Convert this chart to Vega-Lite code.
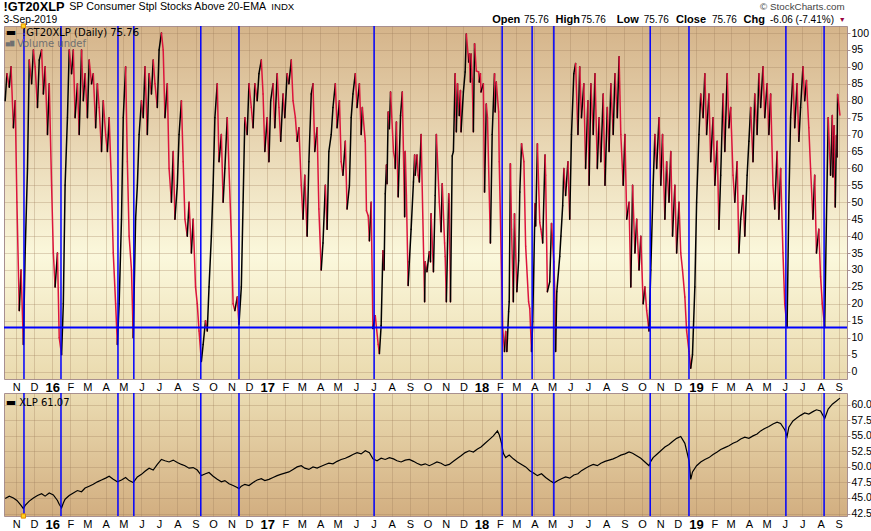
{
"$schema":"https://vega.github.io/schema/vega-lite/v6.json",
"background":"white",
"padding":{"left":2,"top":0,"right":0,"bottom":0},
"bounds":"flush",
"spacing":14,
"config":{"font":"Liberation Sans","view":{"stroke":"#a89090"},"axis":{"labelFont":"Liberation Sans","labelFontSize":11,"labelColor":"#000000","gridColor":"#9c7c58","gridOpacity":0.3,"domain":false,"tickColor":"#a89090","labelBound":false},"axisY":{"labelOverlap":false,"labelFontSize":10.5}},
"datasets":{
"gt":[
{"d":"2015-10-13","v":80},{"d":"2015-10-16","v":88},{"d":"2015-10-20","v":84},{"d":"2015-10-23","v":90},{"d":"2015-10-27","v":72},{"d":"2015-10-30","v":80},{"d":"2015-11-02","v":50},{"d":"2015-11-06","v":18},{"d":"2015-11-09","v":30},{"d":"2015-11-13","v":8},{"d":"2015-11-16","v":35},{"d":"2015-11-20","v":60},{"d":"2015-11-23","v":92},{"d":"2015-11-27","v":85},{"d":"2015-11-30","v":95},{"d":"2015-12-03","v":90},{"d":"2015-12-07","v":78},{"d":"2015-12-10","v":92},{"d":"2015-12-14","v":95},{"d":"2015-12-17","v":82},{"d":"2015-12-20","v":90},{"d":"2015-12-24","v":70},{"d":"2015-12-27","v":85},{"d":"2015-12-31","v":55},
{"d":"2016-01-03","v":35},{"d":"2016-01-06","v":25},{"d":"2016-01-10","v":35},{"d":"2016-01-13","v":10},{"d":"2016-01-17","v":5},{"d":"2016-01-20","v":20},{"d":"2016-01-23","v":55},{"d":"2016-01-27","v":75},{"d":"2016-01-30","v":95},{"d":"2016-02-03","v":88},{"d":"2016-02-06","v":95},{"d":"2016-02-09","v":75},{"d":"2016-02-13","v":85},{"d":"2016-02-16","v":70},{"d":"2016-02-20","v":95},{"d":"2016-02-23","v":80},{"d":"2016-02-26","v":88},{"d":"2016-03-01","v":75},{"d":"2016-03-04","v":92},{"d":"2016-03-08","v":85},{"d":"2016-03-11","v":88},{"d":"2016-03-15","v":72},{"d":"2016-03-18","v":85},{"d":"2016-03-21","v":78},{"d":"2016-03-25","v":65},{"d":"2016-03-28","v":80},{"d":"2016-04-01","v":70},{"d":"2016-04-04","v":65},{"d":"2016-04-07","v":75},{"d":"2016-04-11","v":55},{"d":"2016-04-14","v":35},{"d":"2016-04-18","v":20},{"d":"2016-04-21","v":8},{"d":"2016-04-24","v":20},{"d":"2016-04-28","v":45},{"d":"2016-05-01","v":75},{"d":"2016-05-05","v":90},{"d":"2016-05-08","v":62},{"d":"2016-05-11","v":40},{"d":"2016-05-15","v":30},{"d":"2016-05-18","v":10},{"d":"2016-05-22","v":45},{"d":"2016-05-25","v":55},{"d":"2016-05-28","v":70},{"d":"2016-06-01","v":80},{"d":"2016-06-04","v":75},{"d":"2016-06-07","v":90},{"d":"2016-06-11","v":70},{"d":"2016-06-14","v":88},{"d":"2016-06-18","v":82},{"d":"2016-06-21","v":92},{"d":"2016-06-24","v":85},{"d":"2016-06-28","v":78},{"d":"2016-07-01","v":95},{"d":"2016-07-05","v":100},{"d":"2016-07-08","v":95},{"d":"2016-07-11","v":75},{"d":"2016-07-15","v":85},{"d":"2016-07-18","v":60},{"d":"2016-07-22","v":50},{"d":"2016-07-25","v":65},{"d":"2016-07-28","v":45},{"d":"2016-08-01","v":55},{"d":"2016-08-04","v":70},{"d":"2016-08-08","v":80},{"d":"2016-08-11","v":62},{"d":"2016-08-14","v":45},{"d":"2016-08-18","v":40},{"d":"2016-08-21","v":50},{"d":"2016-08-25","v":35},{"d":"2016-08-28","v":45},{"d":"2016-09-01","v":25},{"d":"2016-09-04","v":20},{"d":"2016-09-07","v":12},{"d":"2016-09-11","v":3},{"d":"2016-09-14","v":8},{"d":"2016-09-18","v":15},{"d":"2016-09-21","v":12},{"d":"2016-09-24","v":25},{"d":"2016-09-28","v":40},{"d":"2016-10-01","v":55},{"d":"2016-10-04","v":75},{"d":"2016-10-08","v":85},{"d":"2016-10-11","v":62},{"d":"2016-10-15","v":70},{"d":"2016-10-18","v":50},{"d":"2016-10-21","v":60},{"d":"2016-10-25","v":75},{"d":"2016-10-28","v":60},{"d":"2016-11-01","v":40},{"d":"2016-11-04","v":20},{"d":"2016-11-07","v":18},{"d":"2016-11-11","v":22},{"d":"2016-11-14","v":14},{"d":"2016-11-18","v":25},{"d":"2016-11-21","v":50},{"d":"2016-11-24","v":75},{"d":"2016-11-28","v":70},{"d":"2016-12-01","v":85},{"d":"2016-12-05","v":78},{"d":"2016-12-08","v":72},{"d":"2016-12-11","v":85},{"d":"2016-12-15","v":80},{"d":"2016-12-18","v":88},{"d":"2016-12-22","v":92},{"d":"2016-12-25","v":82},{"d":"2016-12-28","v":65},
{"d":"2017-01-01","v":75},{"d":"2017-01-04","v":62},{"d":"2017-01-07","v":80},{"d":"2017-01-11","v":85},{"d":"2017-01-14","v":72},{"d":"2017-01-18","v":88},{"d":"2017-01-21","v":78},{"d":"2017-01-24","v":68},{"d":"2017-01-28","v":82},{"d":"2017-01-31","v":75},{"d":"2017-02-04","v":88},{"d":"2017-02-07","v":85},{"d":"2017-02-11","v":92},{"d":"2017-02-14","v":80},{"d":"2017-02-18","v":75},{"d":"2017-02-21","v":68},{"d":"2017-02-24","v":72},{"d":"2017-02-28","v":55},{"d":"2017-03-03","v":45},{"d":"2017-03-06","v":58},{"d":"2017-03-10","v":40},{"d":"2017-03-13","v":62},{"d":"2017-03-17","v":82},{"d":"2017-03-20","v":85},{"d":"2017-03-23","v":65},{"d":"2017-03-27","v":72},{"d":"2017-03-30","v":48},{"d":"2017-04-03","v":30},{"d":"2017-04-06","v":38},{"d":"2017-04-10","v":55},{"d":"2017-04-13","v":42},{"d":"2017-04-16","v":65},{"d":"2017-04-20","v":70},{"d":"2017-04-23","v":78},{"d":"2017-04-27","v":85},{"d":"2017-04-30","v":72},{"d":"2017-05-04","v":80},{"d":"2017-05-07","v":62},{"d":"2017-05-10","v":58},{"d":"2017-05-14","v":68},{"d":"2017-05-17","v":48},{"d":"2017-05-21","v":55},{"d":"2017-05-24","v":75},{"d":"2017-05-27","v":82},{"d":"2017-05-31","v":88},{"d":"2017-06-03","v":78},{"d":"2017-06-07","v":85},{"d":"2017-06-10","v":70},
{"d":"2017-06-12","v":78},{"d":"2017-06-17","v":68},{"d":"2017-06-19","v":47.5},{"d":"2017-06-22","v":46},{"d":"2017-06-24","v":38.6},{"d":"2017-06-27","v":50},{"d":"2017-06-30","v":12.7},{"d":"2017-07-04","v":16.5},{"d":"2017-07-06","v":13},{"d":"2017-07-09","v":8},{"d":"2017-07-11","v":5.3},{"d":"2017-07-14","v":13.6},{"d":"2017-07-17","v":35.7},{"d":"2017-07-19","v":30},{"d":"2017-07-21","v":52.5},{"d":"2017-07-23","v":61},{"d":"2017-07-24","v":55.5},{"d":"2017-07-26","v":76.7},{"d":"2017-07-28","v":71.7},{"d":"2017-07-30","v":82.6},{"d":"2017-08-04","v":65},{"d":"2017-08-06","v":63},{"d":"2017-08-07","v":60},{"d":"2017-08-09","v":73.7},{"d":"2017-08-12","v":51.6},{"d":"2017-08-16","v":75.6},{"d":"2017-08-19","v":82.6},{"d":"2017-08-23","v":45.7},{"d":"2017-08-24","v":65},{"d":"2017-08-26","v":52},{"d":"2017-08-29","v":25.4},{"d":"2017-08-31","v":32.4},{"d":"2017-09-03","v":42},{"d":"2017-09-07","v":56},{"d":"2017-09-09","v":64},{"d":"2017-09-10","v":58},{"d":"2017-09-13","v":64},{"d":"2017-09-15","v":58},{"d":"2017-09-17","v":56},{"d":"2017-09-20","v":70},{"d":"2017-09-26","v":20.6},{"d":"2017-09-27","v":32.4},{"d":"2017-09-30","v":29.5},{"d":"2017-10-04","v":35.4},{"d":"2017-10-06","v":32.4},{"d":"2017-10-07","v":46.6},{"d":"2017-10-11","v":29.5},{"d":"2017-10-14","v":52},{"d":"2017-10-16","v":70},{"d":"2017-10-21","v":50},{"d":"2017-10-24","v":41.3},{"d":"2017-10-26","v":55.5},{"d":"2017-10-30","v":38},{"d":"2017-10-31","v":34},{"d":"2017-11-02","v":20.6},{"d":"2017-11-06","v":52.5},{"d":"2017-11-07","v":50},{"d":"2017-11-09","v":20.6},{"d":"2017-11-12","v":63.7},{"d":"2017-11-14","v":65},{"d":"2017-11-17","v":88},{"d":"2017-11-19","v":70.8},{"d":"2017-11-21","v":85},{"d":"2017-11-24","v":75.6},{"d":"2017-11-26","v":83},{"d":"2017-11-27","v":70.8},{"d":"2017-12-01","v":82.6},{"d":"2017-12-04","v":88.5},{"d":"2017-12-06","v":99.7},{"d":"2017-12-10","v":91.4},{"d":"2017-12-11","v":93.8},{"d":"2017-12-13","v":85.5},{"d":"2017-12-14","v":93.8},{"d":"2017-12-16","v":86.4},{"d":"2017-12-18","v":70.8},{"d":"2017-12-20","v":96.8},{"d":"2017-12-23","v":88.8},{"d":"2017-12-27","v":88.5},{"d":"2017-12-28","v":85.5},{"d":"2017-12-30","v":88},{"d":"2017-12-31","v":82.6},
{"d":"2018-01-04","v":85},{"d":"2018-01-06","v":53},{"d":"2018-01-09","v":79},{"d":"2018-01-11","v":75},{"d":"2018-01-16","v":38},{"d":"2018-01-19","v":70},{"d":"2018-01-23","v":88},{"d":"2018-01-24","v":76.7},{"d":"2018-01-26","v":85.5},{"d":"2018-01-30","v":76.7},{"d":"2018-01-31","v":62},{"d":"2018-02-06","v":12.7},{"d":"2018-02-09","v":5.9},{"d":"2018-02-11","v":11.8},{"d":"2018-02-13","v":5.9},{"d":"2018-02-16","v":17.7},{"d":"2018-02-17","v":20.6},{"d":"2018-02-19","v":61.4},{"d":"2018-02-21","v":42},{"d":"2018-02-24","v":20.6},{"d":"2018-02-26","v":46.6},{"d":"2018-03-02","v":23.6},{"d":"2018-03-05","v":32.7},{"d":"2018-03-07","v":53},{"d":"2018-03-10","v":67.3},{"d":"2018-03-14","v":62},{"d":"2018-03-17","v":37},{"d":"2018-03-22","v":20.6},{"d":"2018-03-24","v":18.6},{"d":"2018-03-27","v":5.9},{"d":"2018-03-29","v":14.7},{"d":"2018-04-02","v":49.6},{"d":"2018-04-03","v":43},{"d":"2018-04-06","v":67.3},{"d":"2018-04-10","v":44},{"d":"2018-04-12","v":42},{"d":"2018-04-15","v":38},{"d":"2018-04-19","v":64},{"d":"2018-04-20","v":58},{"d":"2018-04-23","v":23.6},{"d":"2018-04-27","v":26.5},{"d":"2018-04-30","v":43.7},{"d":"2018-05-04","v":32.4},{"d":"2018-05-06","v":20.6},{"d":"2018-05-07","v":5.9},{"d":"2018-05-09","v":23.6},{"d":"2018-05-14","v":34},{"d":"2018-05-16","v":40},{"d":"2018-05-19","v":49},
{"d":"2018-05-21","v":60},{"d":"2018-05-24","v":52},{"d":"2018-05-28","v":62},{"d":"2018-05-31","v":45},{"d":"2018-06-03","v":70},{"d":"2018-06-07","v":88},{"d":"2018-06-10","v":91},{"d":"2018-06-14","v":70},{"d":"2018-06-17","v":90},{"d":"2018-06-20","v":75},{"d":"2018-06-24","v":85},{"d":"2018-06-27","v":60},{"d":"2018-07-01","v":80},{"d":"2018-07-03","v":55},{"d":"2018-07-06","v":85},{"d":"2018-07-10","v":70},{"d":"2018-07-13","v":88},{"d":"2018-07-17","v":60},{"d":"2018-07-20","v":75},{"d":"2018-07-23","v":62},{"d":"2018-07-27","v":82},{"d":"2018-07-30","v":55},{"d":"2018-08-03","v":78},{"d":"2018-08-06","v":65},{"d":"2018-08-09","v":85},{"d":"2018-08-13","v":70},{"d":"2018-08-16","v":88},{"d":"2018-08-20","v":75},{"d":"2018-08-23","v":93},{"d":"2018-08-26","v":70},{"d":"2018-08-30","v":55},{"d":"2018-09-02","v":70},{"d":"2018-09-05","v":45},{"d":"2018-09-09","v":50},{"d":"2018-09-12","v":25},{"d":"2018-09-15","v":55},{"d":"2018-09-19","v":35},{"d":"2018-09-22","v":45},{"d":"2018-09-26","v":30},{"d":"2018-09-29","v":40},{"d":"2018-10-03","v":20},{"d":"2018-10-06","v":25},{"d":"2018-10-09","v":18},{"d":"2018-10-13","v":12},{"d":"2018-10-16","v":30},{"d":"2018-10-20","v":55},{"d":"2018-10-23","v":70},{"d":"2018-10-26","v":60},{"d":"2018-10-30","v":75},{"d":"2018-11-02","v":55},{"d":"2018-11-05","v":70},{"d":"2018-11-09","v":45},{"d":"2018-11-12","v":62},{"d":"2018-11-16","v":50},{"d":"2018-11-19","v":65},{"d":"2018-11-22","v":40},{"d":"2018-11-26","v":55},{"d":"2018-11-29","v":35},{"d":"2018-12-03","v":50},{"d":"2018-12-06","v":35},{"d":"2018-12-09","v":30},{"d":"2018-12-13","v":22},{"d":"2018-12-16","v":12},{"d":"2018-12-20","v":6},{"d":"2018-12-23","v":1},{"d":"2018-12-26","v":5},{"d":"2018-12-30","v":25},
{"d":"2019-01-02","v":50},{"d":"2019-01-06","v":70},{"d":"2019-01-09","v":82},{"d":"2019-01-13","v":75},{"d":"2019-01-16","v":88},{"d":"2019-01-19","v":70},{"d":"2019-01-23","v":82},{"d":"2019-01-26","v":62},{"d":"2019-01-30","v":75},{"d":"2019-02-02","v":55},{"d":"2019-02-06","v":68},{"d":"2019-02-09","v":42},{"d":"2019-02-12","v":58},{"d":"2019-02-16","v":82},{"d":"2019-02-19","v":65},{"d":"2019-02-23","v":88},{"d":"2019-02-26","v":72},{"d":"2019-03-01","v":78},{"d":"2019-03-05","v":58},{"d":"2019-03-08","v":50},{"d":"2019-03-12","v":62},{"d":"2019-03-15","v":35},{"d":"2019-03-18","v":45},{"d":"2019-03-22","v":52},{"d":"2019-03-25","v":40},{"d":"2019-03-29","v":58},{"d":"2019-04-01","v":68},{"d":"2019-04-04","v":78},{"d":"2019-04-08","v":62},{"d":"2019-04-11","v":82},{"d":"2019-04-15","v":70},{"d":"2019-04-18","v":88},{"d":"2019-04-21","v":78},{"d":"2019-04-25","v":90},{"d":"2019-04-28","v":75},{"d":"2019-05-02","v":85},{"d":"2019-05-05","v":70},{"d":"2019-05-08","v":82},{"d":"2019-05-12","v":55},{"d":"2019-05-15","v":48},{"d":"2019-05-19","v":65},{"d":"2019-05-22","v":45},{"d":"2019-05-25","v":60},{"d":"2019-05-29","v":35},{"d":"2019-06-01","v":20},{"d":"2019-06-05","v":13},{"d":"2019-06-08","v":50},{"d":"2019-06-11","v":75},{"d":"2019-06-15","v":88},{"d":"2019-06-18","v":72},{"d":"2019-06-22","v":85},{"d":"2019-06-25","v":68},{"d":"2019-06-28","v":78},{"d":"2019-07-02","v":90},{"d":"2019-07-05","v":80},{"d":"2019-07-08","v":86},{"d":"2019-07-12","v":72},{"d":"2019-07-15","v":60},{"d":"2019-07-19","v":45},{"d":"2019-07-22","v":58},{"d":"2019-07-25","v":35},{"d":"2019-07-29","v":42},{"d":"2019-08-01","v":28},{"d":"2019-08-04","v":20},{"d":"2019-08-08","v":13},{"d":"2019-08-11","v":45},{"d":"2019-08-14","v":75},{"d":"2019-08-18","v":58},{"d":"2019-08-21","v":75.6},{"d":"2019-08-22","v":57.5},{"d":"2019-08-24","v":72.6},{"d":"2019-08-26","v":48.6},{"d":"2019-08-28","v":69.7},{"d":"2019-08-29","v":63.4},{"d":"2019-08-30","v":81.82},{"d":"2019-09-03","v":75.76}
],
"xlp":[
{"d":"2015-10-13","v":44.9},{"d":"2015-10-20","v":45.3},{"d":"2015-10-27","v":45.0},{"d":"2015-11-02","v":44.6},{"d":"2015-11-09","v":43.8},{"d":"2015-11-13","v":43.3},{"d":"2015-11-16","v":43.8},{"d":"2015-11-23","v":44.5},{"d":"2015-11-30","v":45.0},{"d":"2015-12-07","v":45.4},{"d":"2015-12-14","v":45.7},{"d":"2015-12-20","v":45.3},{"d":"2015-12-27","v":45.8},{"d":"2016-01-03","v":45.5},{"d":"2016-01-10","v":44.6},{"d":"2016-01-13","v":44.0},{"d":"2016-01-17","v":43.4},{"d":"2016-01-20","v":44.2},{"d":"2016-01-23","v":44.8},{"d":"2016-01-30","v":45.4},{"d":"2016-02-06","v":45.8},{"d":"2016-02-13","v":46.2},{"d":"2016-02-20","v":46.0},{"d":"2016-02-26","v":46.6},{"d":"2016-03-04","v":46.9},{"d":"2016-03-11","v":47.2},{"d":"2016-03-18","v":47.6},{"d":"2016-03-25","v":47.9},{"d":"2016-04-01","v":48.2},{"d":"2016-04-07","v":48.5},{"d":"2016-04-14","v":48.0},{"d":"2016-04-21","v":47.6},{"d":"2016-04-28","v":47.9},{"d":"2016-05-05","v":48.3},{"d":"2016-05-11","v":47.8},{"d":"2016-05-18","v":47.5},{"d":"2016-05-25","v":48.4},{"d":"2016-06-01","v":48.8},{"d":"2016-06-07","v":49.3},{"d":"2016-06-14","v":49.8},{"d":"2016-06-21","v":49.5},{"d":"2016-06-28","v":50.4},{"d":"2016-07-05","v":51.2},{"d":"2016-07-11","v":51.0},{"d":"2016-07-18","v":50.8},{"d":"2016-07-25","v":51.1},{"d":"2016-08-01","v":50.7},{"d":"2016-08-08","v":50.4},{"d":"2016-08-14","v":50.2},{"d":"2016-08-21","v":49.8},{"d":"2016-08-28","v":49.9},{"d":"2016-09-04","v":49.5},{"d":"2016-09-11","v":48.6},{"d":"2016-09-18","v":48.9},{"d":"2016-09-24","v":49.1},{"d":"2016-10-01","v":48.5},{"d":"2016-10-08","v":48.0},{"d":"2016-10-15","v":47.6},{"d":"2016-10-21","v":47.8},{"d":"2016-10-28","v":47.3},{"d":"2016-11-04","v":47.0},{"d":"2016-11-11","v":46.7},{"d":"2016-11-14","v":46.5},{"d":"2016-11-18","v":46.9},{"d":"2016-11-24","v":47.2},{"d":"2016-12-01","v":47.0},{"d":"2016-12-08","v":47.5},{"d":"2016-12-15","v":47.9},{"d":"2016-12-22","v":48.1},{"d":"2016-12-28","v":47.8},{"d":"2017-01-04","v":48.0},{"d":"2017-01-11","v":48.3},{"d":"2017-01-18","v":48.6},{"d":"2017-01-24","v":48.8},{"d":"2017-01-31","v":49.0},{"d":"2017-02-07","v":49.2},{"d":"2017-02-14","v":49.6},{"d":"2017-02-21","v":50.0},{"d":"2017-02-28","v":50.2},{"d":"2017-03-06","v":49.8},{"d":"2017-03-13","v":49.6},{"d":"2017-03-20","v":50.0},{"d":"2017-03-27","v":49.8},{"d":"2017-04-03","v":50.1},{"d":"2017-04-10","v":50.4},{"d":"2017-04-16","v":50.6},{"d":"2017-04-23","v":50.5},{"d":"2017-04-30","v":50.9},{"d":"2017-05-07","v":51.2},{"d":"2017-05-14","v":51.4},{"d":"2017-05-21","v":51.7},{"d":"2017-05-27","v":52.0},{"d":"2017-06-03","v":52.3},{"d":"2017-06-10","v":52.1},{"d":"2017-06-17","v":52.6},{"d":"2017-06-24","v":52.3},{"d":"2017-06-30","v":51.3},{"d":"2017-07-07","v":51.0},{"d":"2017-07-14","v":51.4},{"d":"2017-07-21","v":51.2},{"d":"2017-07-28","v":51.5},{"d":"2017-08-04","v":51.3},{"d":"2017-08-10","v":51.0},{"d":"2017-08-17","v":50.8},{"d":"2017-08-24","v":51.1},{"d":"2017-08-31","v":51.2},{"d":"2017-09-07","v":50.9},{"d":"2017-09-13","v":50.6},{"d":"2017-09-20","v":50.3},{"d":"2017-09-27","v":50.5},{"d":"2017-10-04","v":50.2},{"d":"2017-10-11","v":50.5},{"d":"2017-10-17","v":50.8},{"d":"2017-10-24","v":50.6},{"d":"2017-10-31","v":50.2},{"d":"2017-11-07","v":50.4},{"d":"2017-11-14","v":50.9},{"d":"2017-11-21","v":51.4},{"d":"2017-11-27","v":51.8},{"d":"2017-12-04","v":52.3},{"d":"2017-12-11","v":52.6},{"d":"2017-12-18","v":52.4},{"d":"2017-12-25","v":52.9},{"d":"2017-12-31","v":53.2},{"d":"2018-01-07","v":53.8},{"d":"2018-01-14","v":54.4},{"d":"2018-01-21","v":55.0},{"d":"2018-01-28","v":55.8},{"d":"2018-01-31","v":55.2},{"d":"2018-02-04","v":53.8},{"d":"2018-02-07","v":52.2},{"d":"2018-02-11","v":51.5},{"d":"2018-02-17","v":51.9},{"d":"2018-02-24","v":51.3},{"d":"2018-03-03","v":50.8},{"d":"2018-03-10","v":50.4},{"d":"2018-03-17","v":50.0},{"d":"2018-03-24","v":49.4},{"d":"2018-03-31","v":49.0},{"d":"2018-04-06","v":48.6},{"d":"2018-04-13","v":48.9},{"d":"2018-04-20","v":48.3},{"d":"2018-04-27","v":47.8},{"d":"2018-05-04","v":47.4},{"d":"2018-05-11","v":47.8},{"d":"2018-05-17","v":48.1},{"d":"2018-05-24","v":48.4},{"d":"2018-05-31","v":48.2},{"d":"2018-06-07","v":48.7},{"d":"2018-06-14","v":48.9},{"d":"2018-06-20","v":49.4},{"d":"2018-06-27","v":49.8},{"d":"2018-07-03","v":50.1},{"d":"2018-07-10","v":50.4},{"d":"2018-07-17","v":50.2},{"d":"2018-07-23","v":50.6},{"d":"2018-07-30","v":50.9},{"d":"2018-08-06","v":51.1},{"d":"2018-08-13","v":51.3},{"d":"2018-08-20","v":51.6},{"d":"2018-08-26","v":51.9},{"d":"2018-09-02","v":52.1},{"d":"2018-09-09","v":52.4},{"d":"2018-09-15","v":52.2},{"d":"2018-09-22","v":51.8},{"d":"2018-09-29","v":51.4},{"d":"2018-10-06","v":50.8},{"d":"2018-10-13","v":50.2},{"d":"2018-10-16","v":50.9},{"d":"2018-10-20","v":51.5},{"d":"2018-10-26","v":52.0},{"d":"2018-11-02","v":52.6},{"d":"2018-11-09","v":53.2},{"d":"2018-11-16","v":53.6},{"d":"2018-11-22","v":54.1},{"d":"2018-11-29","v":54.6},{"d":"2018-12-06","v":54.9},{"d":"2018-12-13","v":53.8},{"d":"2018-12-20","v":51.0},{"d":"2018-12-23","v":48.0},{"d":"2018-12-26","v":49.2},{"d":"2019-01-02","v":50.2},{"d":"2019-01-09","v":50.8},{"d":"2019-01-16","v":51.2},{"d":"2019-01-23","v":51.5},{"d":"2019-01-30","v":52.0},{"d":"2019-02-06","v":52.4},{"d":"2019-02-12","v":52.8},{"d":"2019-02-19","v":53.1},{"d":"2019-02-26","v":53.4},{"d":"2019-03-05","v":53.8},{"d":"2019-03-12","v":54.1},{"d":"2019-03-18","v":54.5},{"d":"2019-03-25","v":54.8},{"d":"2019-04-01","v":54.6},{"d":"2019-04-08","v":55.0},{"d":"2019-04-15","v":55.3},{"d":"2019-04-21","v":55.8},{"d":"2019-04-28","v":56.2},{"d":"2019-05-05","v":56.5},{"d":"2019-05-12","v":56.9},{"d":"2019-05-19","v":57.2},{"d":"2019-05-25","v":57.0},{"d":"2019-06-01","v":56.0},{"d":"2019-06-05","v":54.9},{"d":"2019-06-08","v":56.4},{"d":"2019-06-15","v":57.4},{"d":"2019-06-22","v":57.9},{"d":"2019-06-28","v":58.3},{"d":"2019-07-05","v":58.7},{"d":"2019-07-12","v":58.5},{"d":"2019-07-19","v":58.9},{"d":"2019-07-25","v":59.2},{"d":"2019-08-01","v":59.0},{"d":"2019-08-08","v":57.8},{"d":"2019-08-14","v":59.3},{"d":"2019-08-21","v":60.1},{"d":"2019-08-28","v":60.6},{"d":"2019-09-03","v":61.07}
],
"vl":[{"d":"2015-11-14"},{"d":"2016-01-16"},{"d":"2016-04-22"},{"d":"2016-05-19"},{"d":"2016-09-10"},{"d":"2016-11-14"},{"d":"2017-07-02"},{"d":"2018-02-05"},{"d":"2018-03-28"},{"d":"2018-05-04"},{"d":"2018-10-15"},{"d":"2018-12-20"},{"d":"2019-06-03"},{"d":"2019-08-07"}]
},
"vconcat":[
{
"width":843,"height":353,
"view":{"stroke":"#a89090","fill":{"gradient":"linear","x1":0,"y1":0,"x2":0,"y2":1,"stops":[{"offset":0,"color":"#d5b48a"},{"offset":0.65,"color":"#fbf8dc"},{"offset":1,"color":"#eadaae"}]}},
"layer":[
{"data":{"name":"gt","format":{"parse":{"d":"date"}}},
 "transform":[{"window":[{"op":"lead","field":"d","as":"d2"},{"op":"lead","field":"v","as":"v2"}],"sort":[{"field":"d","order":"ascending"}]},{"filter":"datum.d2 != null"}],
 "mark":{"type":"rule","strokeWidth":1.5,"strokeCap":"round"},
 "encoding":{
  "x":{"field":"d","type":"temporal","scale":{"domain":[{"year":2015,"month":10,"date":11},{"year":2019,"month":9,"date":15}]},
       "axis":{"title":null,"orient":"bottom","tickCount":{"interval":"month","step":1},"ticks":false,"labelPadding":2,"labelOverlap":false,"labelFlush":false,"grid":true,
               "labelExpr":"month(datum.value) === 0 ? timeFormat(datum.value, '%y') : slice(timeFormat(datum.value, '%b'), 0, 1)",
               "labelFontWeight":{"condition":{"test":"month(datum.value) === 0","value":"bold"},"value":"normal"},
               "labelFontSize":{"condition":{"test":"month(datum.value) === 0","value":13},"value":11}}},
  "y":{"field":"v","type":"quantitative","scale":{"domain":[-2.2,102.07],"nice":false,"zero":false},
       "axis":{"title":null,"orient":"right","values":[0,5,10,15,20,25,30,35,40,45,50,55,60,65,70,75,80,85,90,95,100],"tickCount":40,"tickSize":3,"labelPadding":1,"labelOverlap":false,"labelFontSize":10.5,"grid":true}},
  "x2":{"field":"d2"},"y2":{"field":"v2"},
  "color":{"condition":{"test":"datum.v2 >= datum.v","value":"#000000"},"value":"#dc143c"}
 }},
{"data":{"values":[{}]},"mark":{"type":"rule","color":"#0000ff","strokeWidth":2},"encoding":{"y":{"datum":13,"type":"quantitative"}}},
{"data":{"name":"vl","format":{"parse":{"d":"date"}}},"mark":{"type":"rule","color":"#0000ff","strokeWidth":1.5},"encoding":{"x":{"field":"d","type":"temporal"}}},
{"data":{"values":[{}]},"mark":{"type":"point","shape":"square","size":18,"filled":true,"fill":"#ffd21f","stroke":"#e08a00","strokeWidth":1,"opacity":1},"encoding":{"x":{"datum":{"year":2015,"month":11,"date":13},"type":"temporal"},"y":{"datum":102.07,"type":"quantitative"}}},
{"data":{"values":[{}]},"mark":{"type":"text","text":"!GT20XLP","align":"left","baseline":"middle","fontSize":12.8,"fontWeight":"bold","color":"#000000"},"encoding":{"x":{"datum":{"year":2015,"month":10,"date":10},"type":"temporal"},"y":{"datum":107.8,"type":"quantitative"}}},
{"data":{"values":[{}]},"mark":{"type":"text","text":"SP Consumer Stpl Stocks Above 20-EMA","align":"left","baseline":"middle","fontSize":10.7,"color":"#000000"},"encoding":{"x":{"datum":{"year":2016,"month":1,"date":30},"type":"temporal"},"y":{"datum":107.6,"type":"quantitative"}}},
{"data":{"values":[{}]},"mark":{"type":"text","text":"INDX","align":"left","baseline":"middle","fontSize":9.6,"color":"#000000"},"encoding":{"x":{"datum":{"year":2017,"month":1,"date":8},"type":"temporal"},"y":{"datum":107.6,"type":"quantitative"}}},
{"data":{"values":[{}]},"mark":{"type":"text","text":"3-Sep-2019","align":"left","baseline":"middle","fontSize":10.3,"color":"#000000"},"encoding":{"x":{"datum":{"year":2015,"month":10,"date":10},"type":"temporal"},"y":{"datum":103.7,"type":"quantitative"}}},
{"data":{"values":[{}]},"mark":{"type":"text","text":"© StockCharts.com","align":"right","baseline":"middle","fontSize":9.8,"color":"#444444"},"encoding":{"x":{"datum":{"year":2019,"month":9,"date":11},"type":"temporal"},"y":{"datum":107.7,"type":"quantitative"}}},
{"data":{"values":[{}]},"mark":{"type":"text","text":"Open","align":"left","baseline":"middle","fontSize":11,"fontWeight":"bold","color":"#000000"},"encoding":{"x":{"datum":{"year":2018,"month":1,"date":19},"type":"temporal"},"y":{"datum":103.7,"type":"quantitative"}}},
{"data":{"values":[{}]},"mark":{"type":"text","text":"75.76","align":"left","baseline":"middle","fontSize":10,"color":"#000000"},"encoding":{"x":{"datum":{"year":2018,"month":3,"date":14},"type":"temporal"},"y":{"datum":103.7,"type":"quantitative"}}},
{"data":{"values":[{}]},"mark":{"type":"text","text":"High","align":"left","baseline":"middle","fontSize":11,"fontWeight":"bold","color":"#000000"},"encoding":{"x":{"datum":{"year":2018,"month":5,"date":7},"type":"temporal"},"y":{"datum":103.7,"type":"quantitative"}}},
{"data":{"values":[{}]},"mark":{"type":"text","text":"75.76","align":"left","baseline":"middle","fontSize":10,"color":"#000000"},"encoding":{"x":{"datum":{"year":2018,"month":6,"date":19},"type":"temporal"},"y":{"datum":103.7,"type":"quantitative"}}},
{"data":{"values":[{}]},"mark":{"type":"text","text":"Low","align":"left","baseline":"middle","fontSize":11,"fontWeight":"bold","color":"#000000"},"encoding":{"x":{"datum":{"year":2018,"month":8,"date":19},"type":"temporal"},"y":{"datum":103.7,"type":"quantitative"}}},
{"data":{"values":[{}]},"mark":{"type":"text","text":"75.76","align":"left","baseline":"middle","fontSize":10,"color":"#000000"},"encoding":{"x":{"datum":{"year":2018,"month":10,"date":4},"type":"temporal"},"y":{"datum":103.7,"type":"quantitative"}}},
{"data":{"values":[{}]},"mark":{"type":"text","text":"Close","align":"left","baseline":"middle","fontSize":11,"fontWeight":"bold","color":"#000000"},"encoding":{"x":{"datum":{"year":2018,"month":11,"date":28},"type":"temporal"},"y":{"datum":103.7,"type":"quantitative"}}},
{"data":{"values":[{}]},"mark":{"type":"text","text":"75.76","align":"left","baseline":"middle","fontSize":10,"color":"#000000"},"encoding":{"x":{"datum":{"year":2019,"month":1,"date":28},"type":"temporal"},"y":{"datum":103.7,"type":"quantitative"}}},
{"data":{"values":[{}]},"mark":{"type":"text","text":"Chg","align":"left","baseline":"middle","fontSize":11,"fontWeight":"bold","color":"#000000"},"encoding":{"x":{"datum":{"year":2019,"month":3,"date":23},"type":"temporal"},"y":{"datum":103.7,"type":"quantitative"}}},
{"data":{"values":[{}]},"mark":{"type":"text","text":"-6.06 (-7.41%)","align":"left","baseline":"middle","fontSize":10,"color":"#000000"},"encoding":{"x":{"datum":{"year":2019,"month":5,"date":7},"type":"temporal"},"y":{"datum":103.7,"type":"quantitative"}}},
{"data":{"values":[{}]},"mark":{"type":"text","text":"▼","align":"center","baseline":"middle","fontSize":7,"color":"#99003d"},"encoding":{"x":{"datum":{"year":2019,"month":9,"date":7},"type":"temporal"},"y":{"datum":103.7,"type":"quantitative"}}},
{"data":{"values":[{}]},"mark":{"type":"text","text":"▬","align":"left","baseline":"middle","fontSize":11,"color":"#000000","font":"DejaVu Sans"},"encoding":{"x":{"datum":{"year":2015,"month":10,"date":14},"type":"temporal"},"y":{"datum":100.0,"type":"quantitative"}}},
{"data":{"values":[{}]},"mark":{"type":"text","text":"!GT20XLP (Daily) 75.76","align":"left","baseline":"middle","fontSize":10,"color":"#000000","font":"DejaVu Sans"},"encoding":{"x":{"datum":{"year":2015,"month":11,"date":11},"type":"temporal"},"y":{"datum":100.0,"type":"quantitative"}}},
{"data":{"values":[{}]},"mark":{"type":"text","text":"▅▇","align":"left","baseline":"middle","fontSize":5.5,"color":"#707070","font":"DejaVu Sans"},"encoding":{"x":{"datum":{"year":2015,"month":10,"date":14},"type":"temporal"},"y":{"datum":97.0,"type":"quantitative"}}},
{"data":{"values":[{}]},"mark":{"type":"text","text":"Volume undef","align":"left","baseline":"middle","fontSize":10,"color":"#707070","font":"DejaVu Sans"},"encoding":{"x":{"datum":{"year":2015,"month":11,"date":2},"type":"temporal"},"y":{"datum":96.8,"type":"quantitative"}}}
]
},
{
"width":843,"height":123,
"view":{"stroke":"#a89090","fill":{"gradient":"linear","x1":0,"y1":0,"x2":0,"y2":1,"stops":[{"offset":0,"color":"#ebdcb2"},{"offset":1,"color":"#d2ae80"}]}},
"layer":[
{"data":{"name":"xlp","format":{"parse":{"d":"date"}}},
 "mark":{"type":"line","color":"#000000","strokeWidth":1.2},
 "encoding":{
  "x":{"field":"d","type":"temporal","scale":{"domain":[{"year":2015,"month":10,"date":11},{"year":2019,"month":9,"date":15}]},
       "axis":{"title":null,"orient":"bottom","tickCount":{"interval":"month","step":1},"ticks":false,"labelPadding":2,"labelOverlap":false,"labelFlush":false,"grid":true,
               "labelExpr":"month(datum.value) === 0 ? timeFormat(datum.value, '%y') : slice(timeFormat(datum.value, '%b'), 0, 1)",
               "labelFontWeight":{"condition":{"test":"month(datum.value) === 0","value":"bold"},"value":"normal"},
               "labelFontSize":{"condition":{"test":"month(datum.value) === 0","value":13},"value":11}}},
  "y":{"field":"v","type":"quantitative","scale":{"domain":[42.1,61.9],"nice":false,"zero":false},
       "axis":{"title":null,"orient":"right","values":[42.5,45,47.5,50,52.5,55,57.5,60],"tickCount":20,"format":".1f","tickSize":3,"labelPadding":1,"labelOverlap":false,"labelFontSize":10.5,"grid":true}}
 }},
{"data":{"name":"vl","format":{"parse":{"d":"date"}}},"mark":{"type":"rule","color":"#0000ff","strokeWidth":1.5},"encoding":{"x":{"field":"d","type":"temporal"}}},
{"data":{"values":[{}]},"mark":{"type":"point","shape":"square","size":18,"filled":true,"fill":"#ffd21f","stroke":"#e08a00","strokeWidth":1,"opacity":1},"encoding":{"x":{"datum":{"year":2015,"month":11,"date":13},"type":"temporal"},"y":{"datum":42.1,"type":"quantitative"}}},
{"data":{"values":[{}]},"mark":{"type":"text","text":"▬","align":"left","baseline":"middle","fontSize":11,"color":"#000000","font":"DejaVu Sans"},"encoding":{"x":{"datum":{"year":2015,"month":10,"date":14},"type":"temporal"},"y":{"datum":60.3,"type":"quantitative"}}},
{"data":{"values":[{}]},"mark":{"type":"text","text":"XLP 61.07","align":"left","baseline":"middle","fontSize":10,"color":"#000000","font":"DejaVu Sans"},"encoding":{"x":{"datum":{"year":2015,"month":11,"date":6},"type":"temporal"},"y":{"datum":60.3,"type":"quantitative"}}}
]
}
]
}
